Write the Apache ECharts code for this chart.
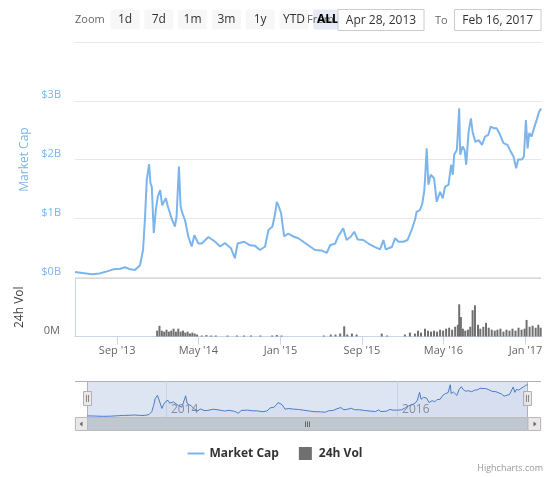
<!DOCTYPE html>
<html>
<head>
<meta charset="utf-8">
<script src="https://cdn.jsdelivr.net/npm/echarts@6/dist/echarts.min.js"></script>
<style>
html, body { margin: 0; padding: 0; background: #fff; }
#main { width: 550px; height: 477px; }
</style>
</head>
<body>
<div id="main"></div>
<script>
// market cap, billions of dollars
const capDates = [
  "2013-04-28", "2013-05-20", "2013-06-17", "2013-07-10", "2013-08-04", "2013-08-20", "2013-09-10", "2013-09-24",
  "2013-10-10", "2013-10-24", "2013-11-08", "2013-11-17", "2013-11-23", "2013-11-28", "2013-12-05", "2013-12-09",
  "2013-12-13", "2013-12-19", "2013-12-25", "2013-12-31", "2014-01-07", "2014-01-13", "2014-01-24", "2014-01-30",
  "2014-02-10", "2014-02-20", "2014-02-25", "2014-03-04", "2014-03-09", "2014-03-14", "2014-03-22", "2014-04-01",
  "2014-04-11", "2014-04-19", "2014-05-01", "2014-05-11", "2014-05-31", "2014-06-20", "2014-07-05", "2014-07-19",
  "2014-08-06", "2014-08-18", "2014-08-26", "2014-09-15", "2014-10-02", "2014-10-17", "2014-11-01", "2014-11-16",
  "2014-11-26", "2014-12-08", "2014-12-16", "2014-12-21", "2014-12-25", "2015-01-03", "2015-01-06", "2015-01-12",
  "2015-01-24", "2015-02-08", "2015-02-23", "2015-03-10", "2015-03-30", "2015-04-14", "2015-05-04", "2015-05-19",
  "2015-05-29", "2015-06-13", "2015-06-22", "2015-07-07", "2015-07-17", "2015-07-30", "2015-08-09", "2015-08-19",
  "2015-09-05", "2015-09-20", "2015-10-10", "2015-10-25", "2015-11-04", "2015-11-11", "2015-11-29", "2015-12-09",
  "2015-12-19", "2016-01-02", "2016-01-15", "2016-01-27", "2016-02-06", "2016-02-11", "2016-02-21", "2016-02-28",
  "2016-03-02", "2016-03-05", "2016-03-07", "2016-03-12", "2016-03-17", "2016-03-24", "2016-04-03", "2016-04-11",
  "2016-04-21", "2016-04-29", "2016-05-06", "2016-05-16", "2016-05-24", "2016-05-29", "2016-06-02", "2016-06-10",
  "2016-06-17", "2016-06-20", "2016-06-27", "2016-07-03", "2016-07-08", "2016-07-15", "2016-07-22", "2016-07-27",
  "2016-08-04", "2016-08-14", "2016-08-24", "2016-09-02", "2016-09-12", "2016-09-19", "2016-09-29", "2016-10-07",
  "2016-10-17", "2016-10-27", "2016-11-08", "2016-11-18", "2016-11-26", "2016-12-04", "2016-12-10", "2016-12-21",
  "2016-12-27", "2017-01-02", "2017-01-07", "2017-01-12", "2017-01-19", "2017-01-26", "2017-02-03", "2017-02-10",
  "2017-02-16"
];
const capValues = [
  0.085, 0.07, 0.046, 0.06, 0.10, 0.13, 0.14, 0.165,
  0.13, 0.12, 0.20, 0.46, 1.03, 1.65, 1.92, 1.60,
  1.54, 0.75, 1.14, 1.37, 1.48, 1.22, 1.34, 1.20,
  1.00, 0.86, 1.03, 1.88, 1.20, 1.09, 0.97, 0.69,
  0.52, 0.71, 0.57, 0.57, 0.68, 0.60, 0.52, 0.58,
  0.49, 0.32, 0.57, 0.60, 0.54, 0.53, 0.46, 0.52,
  0.80, 0.86, 1.08, 1.28, 1.23, 1.08, 0.94, 0.69,
  0.74, 0.69, 0.66, 0.60, 0.52, 0.46, 0.45, 0.41,
  0.54, 0.57, 0.69, 0.83, 0.63, 0.69, 0.77, 0.64,
  0.63, 0.57, 0.51, 0.47, 0.63, 0.47, 0.51, 0.66,
  0.60, 0.60, 0.63, 0.80, 0.97, 1.11, 1.14, 1.25,
  1.28, 1.48, 1.65, 2.19, 1.57, 1.74, 1.68, 1.28,
  1.45, 1.34, 1.54, 1.57, 1.91, 1.74, 2.08, 2.16,
  2.87, 2.08, 2.22, 2.16, 1.91, 2.47, 2.70, 2.47,
  2.30, 2.33, 2.25, 2.39, 2.42, 2.56, 2.53, 2.53,
  2.42, 2.28, 2.25, 2.13, 2.05, 1.85, 2.00, 2.00,
  2.05, 2.67, 2.19, 2.45, 2.39, 2.53, 2.67, 2.81,
  2.87
];

// 24h volume, millions of dollars
const volDates = [
  "2013-12-29", "2014-01-05", "2014-01-12", "2014-01-19", "2014-01-26", "2014-02-02", "2014-02-09", "2014-02-16",
  "2014-02-23", "2014-03-02", "2014-03-09", "2014-03-16", "2014-03-23", "2014-03-30", "2014-04-06", "2014-04-13",
  "2014-04-20", "2014-04-27", "2014-05-11", "2014-05-25", "2014-06-08", "2014-06-22", "2014-07-27", "2014-08-24",
  "2014-09-14", "2014-10-05", "2014-11-02", "2014-12-07", "2014-12-21", "2015-01-04", "2015-05-10", "2015-05-31",
  "2015-06-14", "2015-06-28", "2015-07-10", "2015-07-19", "2015-08-02", "2015-08-16", "2015-10-30", "2015-11-15",
  "2016-01-07", "2016-01-22", "2016-02-06", "2016-02-15", "2016-02-24", "2016-03-07", "2016-03-16", "2016-03-25",
  "2016-04-03", "2016-04-12", "2016-04-21", "2016-04-30", "2016-05-09", "2016-05-18", "2016-05-27", "2016-06-05",
  "2016-06-13", "2016-06-17", "2016-06-22", "2016-06-28", "2016-07-05", "2016-07-13", "2016-07-20", "2016-07-27",
  "2016-08-03", "2016-08-12", "2016-08-19", "2016-08-28", "2016-09-05", "2016-09-13", "2016-09-22", "2016-10-01",
  "2016-10-09", "2016-10-18", "2016-10-27", "2016-11-05", "2016-11-14", "2016-11-23", "2016-12-02", "2016-12-11",
  "2016-12-20", "2016-12-29", "2017-01-04", "2017-01-13", "2017-01-22", "2017-01-31", "2017-02-08", "2017-02-15"
];
const volValues = [
  6, 11, 6, 5, 7, 5, 6, 8,
  5, 8, 5, 6, 4, 5, 3, 4,
  3, 2, 1, 1.5, 1, 1, 1, 1,
  1, 1, 1, 1, 1.5, 1, 1, 2,
  2, 3, 10.5, 2, 3, 2, 3, 1,
  2, 4, 3, 6, 4, 8, 6, 5,
  6, 5, 7, 6, 8, 9, 7, 10,
  12, 33, 20, 8, 6, 7, 10, 27,
  32, 12, 8, 10, 14, 9, 7, 6,
  7, 8, 5, 7, 6, 8, 6, 9,
  7, 8, 17, 10, 11, 9, 12, 9
];

const startDate = "2013-04-28";
const endDate = "2017-02-16";
const tickDates = ["2013-09-01", "2014-05-01", "2015-01-01", "2015-09-01", "2016-05-01", "2017-01-01"];
const tickLabels = ["Sep '13", "May '14", "Jan '15", "Sep '15", "May '16", "Jan '17"];
const navTickDates = ["2014-01-01", "2016-01-01"];
const navTickLabels = ["2014", "2016"];
const capTicks = ["$0B", "$1B", "$2B", "$3B", "$4B"];
const rangeButtons = ["1d", "7d", "1m", "3m", "1y", "YTD", "ALL"];
const fromText = "Apr 28, 2013";
const toText = "Feb 16, 2017";

const FONT = '"Lucida Grande", "Lucida Sans Unicode", "Open Sans", Arial, sans-serif';
const ts = d => new Date(d + "T00:00:00Z").getTime();
const xMin = ts(startDate);
const xMax = ts(endDate);
const tickTs = tickDates.map(ts);
const navTs = navTickDates.map(ts);
const capData = capDates.map((d, i) => [ts(d), capValues[i]]);
const volData = volDates.map((d, i) => [ts(d), volValues[i]]);

// range selector and scrollbar, drawn as graphics
const graphics = [];
graphics.push({ type: "text", x: 75, y: 20, style: { text: "Zoom", font: "11px " + FONT, fill: "#666", verticalAlign: "middle" } });
rangeButtons.forEach((b, i) => {
  graphics.push({
    type: "rect", shape: { x: 110.5 + i * 33.8, y: 9.5, width: 29, height: 20, r: 2 },
    style: { fill: b === "ALL" ? "#e6ebf5" : "#f7f7f7" }
  });
});
graphics.push({ type: "text", x: 307, y: 20, style: { text: "From", font: "11px " + FONT, fill: "#666", verticalAlign: "middle" } });
rangeButtons.forEach((b, i) => {
  graphics.push({
    type: "text", x: 110.5 + i * 33.8 + 14.5, y: 20,
    style: { text: b, font: (b === "ALL" ? "bold " : "") + "12px " + FONT, fill: b === "ALL" ? "#000" : "#333", align: "center", verticalAlign: "middle" }
  });
});
graphics.push({ type: "rect", shape: { x: 338, y: 9.5, width: 86, height: 21 }, style: { fill: "#fff", stroke: "#ccc", lineWidth: 1 } });
graphics.push({ type: "text", x: 381, y: 20.5, style: { text: fromText, font: "12px " + FONT, fill: "#333", align: "center", verticalAlign: "middle" } });
graphics.push({ type: "text", x: 435, y: 20.5, style: { text: "To", font: "11px " + FONT, fill: "#666", verticalAlign: "middle" } });
graphics.push({ type: "rect", shape: { x: 454.5, y: 9.5, width: 86.5, height: 21 }, style: { fill: "#fff", stroke: "#ccc", lineWidth: 1 } });
graphics.push({ type: "text", x: 497.7, y: 20.5, style: { text: toText, font: "12px " + FONT, fill: "#333", align: "center", verticalAlign: "middle" } });

// navigator outline
graphics.push({ type: "line", shape: { x1: 75, y1: 381.5, x2: 541, y2: 381.5 }, style: { stroke: "#b2b1b6", lineWidth: 1 } });
graphics.push({ type: "line", shape: { x1: 87.5, y1: 381.5, x2: 87.5, y2: 417.5 }, style: { stroke: "#b2b1b6", lineWidth: 1 } });
graphics.push({ type: "line", shape: { x1: 527.5, y1: 381.5, x2: 527.5, y2: 417.5 }, style: { stroke: "#b2b1b6", lineWidth: 1 } });
// scrollbar
graphics.push({ type: "rect", shape: { x: 75, y: 417.5, width: 466, height: 13 }, style: { fill: "#eeeeee", stroke: "#eeeeee" } });
graphics.push({ type: "rect", shape: { x: 87.5, y: 417.5, width: 440, height: 13 }, style: { fill: "#bfc8d1", stroke: "#bbbbbb", lineWidth: 1 } });
graphics.push({ type: "rect", shape: { x: 75.5, y: 417.5, width: 12, height: 13 }, style: { fill: "#ebe7e8", stroke: "#bbbbbb", lineWidth: 1 } });
graphics.push({ type: "rect", shape: { x: 528, y: 417.5, width: 12.5, height: 13 }, style: { fill: "#ebe7e8", stroke: "#bbbbbb", lineWidth: 1 } });
graphics.push({ type: "polygon", shape: { points: [[79.5, 424], [82.5, 421.5], [82.5, 426.5]] }, style: { fill: "#666" } });
graphics.push({ type: "polygon", shape: { points: [[536.5, 424], [533.5, 421.5], [533.5, 426.5]] }, style: { fill: "#666" } });
[-2, 0, 2].forEach(dx => {
  graphics.push({ type: "line", shape: { x1: 307.5 + dx, y1: 421.5, x2: 307.5 + dx, y2: 427 }, style: { stroke: "#666", lineWidth: 1 } });
});
// navigator handles
[83.5, 523.5].forEach(hx => {
  graphics.push({ type: "rect", shape: { x: hx, y: 391.5, width: 8, height: 14 }, style: { fill: "#ebe7e8", stroke: "#b2b1b6", lineWidth: 1 } });
  graphics.push({ type: "line", shape: { x1: hx + 3, y1: 395, x2: hx + 3, y2: 402 }, style: { stroke: "#888", lineWidth: 1 } });
  graphics.push({ type: "line", shape: { x1: hx + 5, y1: 395, x2: hx + 5, y2: 402 }, style: { stroke: "#888", lineWidth: 1 } });
});
// credits
graphics.push({ type: "text", x: 543, y: 468, style: { text: "Highcharts.com", font: "9px " + FONT, fill: "#999", align: "right", verticalAlign: "middle" } });

const option = {
  animation: false,
  textStyle: { fontFamily: FONT },
  grid: [
    { left: 75, right: 9, top: 42, height: 235 },
    { left: 75, right: 9, top: 278, height: 58.5 },
    { left: 87.5, right: 22.5, top: 381.5, height: 36, show: true, backgroundColor: "rgba(102,133,194,0.22)", borderWidth: 0 }
  ],
  legend: {
    top: 442,
    left: "center",
    itemGap: 20,
    itemWidth: 17,
    itemHeight: 13,
    textStyle: { fontWeight: "bold", fontSize: 12, color: "#333", fontFamily: FONT },
    data: [
      { name: "Market Cap", icon: "path://M0,0H17V2H0Z" },
      { name: "24h Vol", icon: "path://M0,0H10V10H0Z" }
    ]
  },
  xAxis: [
    { gridIndex: 0, type: "value", min: xMin, max: xMax, show: false },
    {
      gridIndex: 1, type: "value", min: xMin, max: xMax,
      axisLine: { lineStyle: { color: "#ccd6eb" } },
      axisTick: { customValues: tickTs, length: 8, lineStyle: { color: "#ccd6eb" } },
      axisLabel: {
        customValues: tickTs, color: "#666", fontSize: 11, margin: 9,
        formatter: v => tickLabels[tickTs.indexOf(v)]
      },
      splitLine: { show: false }
    },
    {
      gridIndex: 2, type: "value", min: xMin, max: xMax,
      axisLine: { show: false },
      axisTick: { customValues: navTs, inside: true, length: 36, lineStyle: { color: "#c8d3e8" } },
      axisLabel: {
        customValues: navTs, inside: true, align: "left", verticalAlign: "bottom", margin: 2,
        padding: [0, 0, 0, 5], color: "#8a8f99", fontSize: 12,
        formatter: v => navTickLabels[navTs.indexOf(v)]
      },
      splitLine: { show: false }
    }
  ],
  yAxis: [
    {
      gridIndex: 0, type: "value", min: 0, max: 4, interval: 1,
      name: "Market Cap", nameLocation: "middle", nameGap: 38, nameRotate: 90,
      nameTextStyle: { color: "#7cb5ec", fontSize: 12 },
      axisLine: { show: false }, axisTick: { show: false },
      axisLabel: { showMaxLabel: false, color: "#7cb5ec", fontSize: 11, margin: 14, verticalAlign: "bottom", formatter: v => capTicks[v] },
      splitLine: { lineStyle: { color: "#e6e6e6" } }
    },
    {
      gridIndex: 1, type: "value", min: 0, max: 60, interval: 60,
      name: "24h Vol", nameLocation: "middle", nameGap: 49, nameRotate: 90,
      nameTextStyle: { color: "#444", fontSize: 12 },
      axisLine: { show: true, lineStyle: { color: "#ccd6eb" } }, axisTick: { show: false },
      axisLabel: { showMaxLabel: false, color: "#666", fontSize: 11, margin: 15, verticalAlign: "bottom", formatter: v => v + "M" },
      splitLine: { lineStyle: { color: "#d8d8d8" } }
    },
    { gridIndex: 2, type: "value", min: -0.06, max: 3.16, show: false }
  ],
  series: [
    {
      name: "Market Cap", type: "line", xAxisIndex: 0, yAxisIndex: 0,
      data: capData, symbol: "none", color: "#7cb5ec",
      lineStyle: { width: 2, color: "#7cb5ec" }
    },
    {
      name: "24h Vol", type: "bar", xAxisIndex: 1, yAxisIndex: 1,
      data: volData, barWidth: 2, color: "#707070"
    },
    {
      name: "nav", type: "line", xAxisIndex: 2, yAxisIndex: 2,
      data: capData, symbol: "none", color: "#4a7cc4",
      lineStyle: { width: 1, color: "#4a7cc4" },
      areaStyle: { color: "rgba(51,92,173,0.05)" }
    }
  ],
  graphic: graphics
};

const myChart = echarts.init(document.getElementById("main"));
myChart.setOption(option);
</script>
</body>
</html>
